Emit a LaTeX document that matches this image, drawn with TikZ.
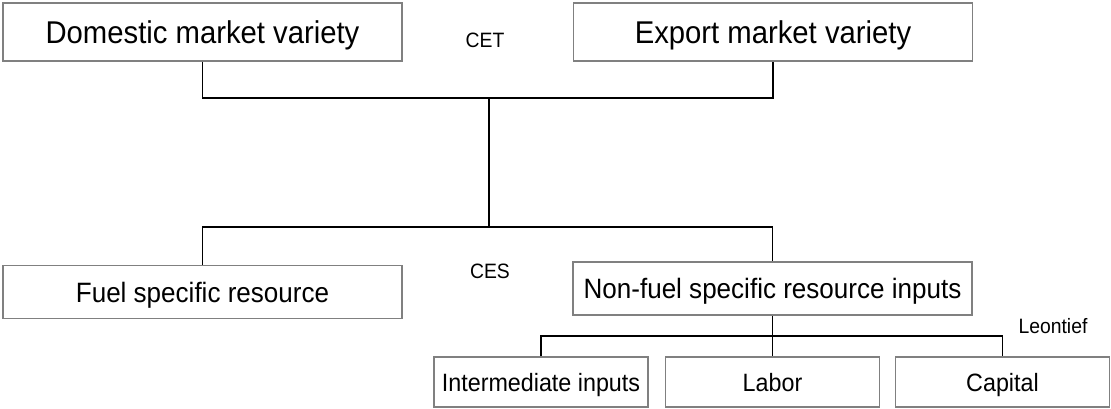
\documentclass[tikz,border=0pt]{standalone}
\usepackage{fontspec}
\setmainfont{Liberation Sans}[FakeStretch=0.93]
\begin{document}
\begin{tikzpicture}[x=0.75pt,y=-0.75pt,
  box/.style={draw=black!50,line width=1.1pt,fill=white,inner sep=0pt,anchor=center,text depth=0pt},
  bigbox/.style={box,minimum width=299pt,minimum height=43.5pt,text height=17pt,font=\fontsize{23.6}{28}\selectfont},
  midbox/.style={box,minimum width=299pt,minimum height=40pt,text height=15.1pt,font=\fontsize{21}{25}\selectfont},
  smallbox/.style={box,minimum width=160.5pt,minimum height=37.5pt,text height=13.5pt,font=\fontsize{18.8}{22}\selectfont},
  lbl/.style={inner sep=0pt,font=\fontsize{15.6}{18}\selectfont,text height=11.2pt,text depth=0pt},
  conn/.style={draw=black,line width=1.1pt}]
\useasboundingbox (0,0) rectangle (1111,408);
\node[bigbox] (dom) at (202.5,32) {Domestic market variety};
\node[bigbox] (exp) at (773,32) {Export market variety};
\node[midbox] (fuel) at (202.5,292) {Fuel specific resource};
\node[midbox] (nonfuel) at (772.5,288.5) {Non-fuel specific resource inputs};
\node[smallbox] (inter) at (541,382) {Intermediate inputs};
\node[smallbox] (labor) at (772.5,382) {Labor};
\node[smallbox] (capital) at (1002.5,382) {Capital};
\node[lbl] (cet) at (485,40) {CET};
\node[lbl] (ces) at (490,271) {CES};
\node[lbl] (leo) at (1053,326) {Leontief};
\coordinate (j1) at (489,98);
\coordinate (j2) at (489,227);
\coordinate (j3) at (772.5,336);
\draw[conn] (dom.south) |- (j1) -| (exp.south);
\draw[conn] (j1) -- (j2);
\draw[conn] (fuel.north) |- (j2) -| (nonfuel.north);
\draw[conn] (nonfuel.south) -- (labor.north);
\draw[conn] (inter.north) |- (j3) -| (capital.north);
\end{tikzpicture}
\end{document}
